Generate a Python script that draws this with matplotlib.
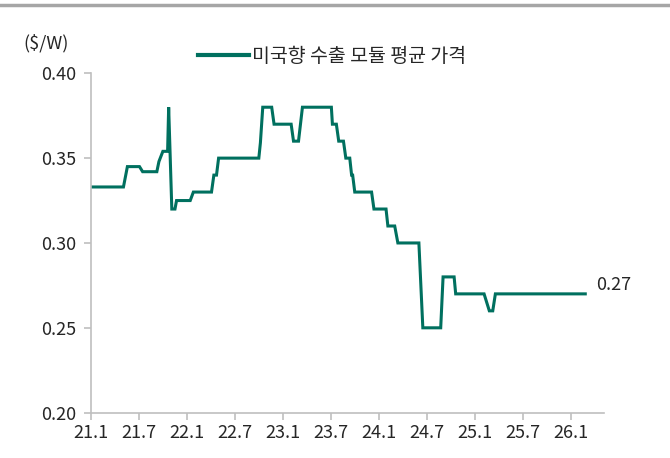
import matplotlib
matplotlib.use("Agg")
import matplotlib.pyplot as plt
from matplotlib.lines import Line2D
import pandas as pd

plt.rcParams['font.family'] = ['Noto Sans CJK KR', 'DejaVu Sans']

# breakpoints of the price line
dates = ['2021-01-01', '2021-05-04', '2021-05-19', '2021-07-04', '2021-07-16',
         '2021-09-08', '2021-09-16', '2021-10-01', '2021-10-19', '2021-10-23',
         '2021-11-04', '2021-11-16', '2021-11-22', '2022-01-13', '2022-01-25',
         '2022-04-04', '2022-04-13', '2022-04-23', '2022-05-01', '2022-10-01',
         '2022-10-07', '2022-10-16', '2022-11-19', '2022-11-28', '2023-02-01',
         '2023-02-10', '2023-03-01', '2023-03-16', '2023-07-04', '2023-07-08',
         '2023-07-23', '2023-08-01', '2023-08-19', '2023-08-28', '2023-09-12',
         '2023-09-19', '2023-09-23', '2023-10-01', '2023-12-04', '2023-12-13',
         '2024-01-28', '2024-02-04', '2024-03-01', '2024-03-13', '2024-06-01',
         '2024-06-16', '2024-08-23', '2024-09-01', '2024-10-13', '2024-10-19',
         '2025-02-04', '2025-02-24', '2025-03-09', '2025-03-19', '2026-02-24']
price = [0.333, 0.333, 0.345, 0.345, 0.342,
         0.342, 0.348, 0.354, 0.354, 0.380,
         0.320, 0.320, 0.325, 0.325, 0.330,
         0.330, 0.340, 0.340, 0.350, 0.350,
         0.359, 0.380, 0.380, 0.370, 0.370,
         0.360, 0.360, 0.380, 0.380, 0.370,
         0.370, 0.360, 0.360, 0.350, 0.350,
         0.340, 0.340, 0.330, 0.330, 0.320,
         0.320, 0.310, 0.310, 0.300, 0.300,
         0.250, 0.250, 0.280, 0.280, 0.270,
         0.270, 0.260, 0.260, 0.270, 0.270]

tick_dates = ['2021-01-01', '2021-07-01', '2022-01-01', '2022-07-01', '2023-01-01',
              '2023-07-01', '2024-01-01', '2024-07-01', '2025-01-01', '2025-07-01',
              '2026-01-01']
tick_labels = ['21.1', '21.7', '22.1', '22.7', '23.1', '23.7', '24.1', '24.7',
               '25.1', '25.7', '26.1']
y_ticks = [0.20, 0.25, 0.30, 0.35, 0.40]

series_name = '미국향 수출 모듈 평균 가격'
line_color = '#00705F'
axis_color = '#BFBFBF'
text_color = '#262626'

x = pd.to_datetime(dates)

fig = plt.figure(figsize=(6.7, 4.58), dpi=100)
ax = fig.add_axes([0.136, 0.099, 0.765, 0.741])

ax.plot(x, price, color=line_color, lw=2.2, label=series_name,
        solid_joinstyle='miter')

ax.set_ylim(0.20, 0.40)
ax.set_yticks(y_ticks)
ax.set_yticklabels([f'{v:.2f}' for v in y_ticks])
ax.set_xlim(pd.Timestamp('2021-01-01'), pd.Timestamp('2026-05-05'))
ax.set_xticks(pd.to_datetime(tick_dates))
ax.set_xticklabels(tick_labels)

for side in ['top', 'right']:
    ax.spines[side].set_visible(False)
for side in ['left', 'bottom']:
    ax.spines[side].set_color(axis_color)
    ax.spines[side].set_linewidth(1.2)
ax.tick_params(axis='both', colors=axis_color, length=5, width=1.2,
               labelcolor=text_color, labelsize=13)
ax.tick_params(axis='x', pad=3)
ax.tick_params(axis='y', pad=6)

# end label
ax.annotate(f'{price[-1]:.2f}', xy=(x[-1], price[-1]), xytext=(8, 0),
            textcoords='offset points', va='bottom', ha='left',
            fontsize=13, color=text_color)

# unit
fig.text(0.035, 0.905, '($/W)', fontsize=13, color=text_color, va='center')

leg = ax.legend(loc='center', bbox_to_anchor=(0.47, 1.05), frameon=False,
                fontsize=14, handlelength=2.6, handletextpad=0.15,
                labelcolor=text_color, borderpad=0)
leg.get_lines()[0].set_linewidth(3)

# grey rule along the top
fig.add_artist(Line2D([0, 1], [0.988, 0.988], transform=fig.transFigure,
                      color='#A6A6A6', lw=2.5))

fig.savefig('out.png', dpi=100)
